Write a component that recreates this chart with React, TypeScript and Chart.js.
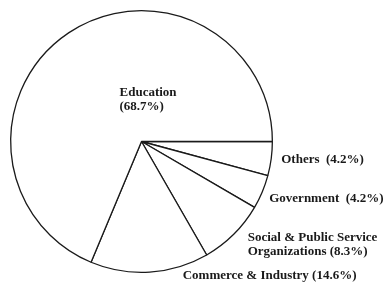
import React, { useEffect, useRef } from "react";
import { Chart, registerables } from "chart.js";

Chart.register(...registerables);

const categories = ["Others", "Government", "Social & Public Service Organizations", "Commerce & Industry", "Education"];
const shares = [4.2, 4.2, 8.3, 14.6, 68.7];
const labelLines = [
  ["Others  (4.2%)"],
  ["Government  (4.2%)"],
  ["Social & Public Service", "Organizations (8.3%)"],
  ["Commerce & Industry (14.6%)"],
  ["Education", "(68.7%)"],
];

// label offsets (dx, dy) from the slice's rim midpoint; Education is placed relative to the centre
const labelOffsets: [number, number, boolean][] = [
  [10, 1, false],
  [7, 6.5, false],
  [14, 3, false],
  [33, 4, false],
  [-22, -49, true],
];

const labelPlugin = {
  id: "sliceLabels",
  afterDatasetsDraw(chart: any) {
    const ctx = chart.ctx;
    const meta = chart.getDatasetMeta(0);
    ctx.save();
    ctx.fillStyle = "#1a1a1a";
    ctx.font = "bold 13px 'Liberation Serif', serif";
    ctx.textAlign = "left";
    ctx.textBaseline = "middle";
    meta.data.forEach((arc: any, i: number) => {
      const p = arc.getProps(["x", "y", "startAngle", "endAngle", "outerRadius"], true);
      const mid = (p.startAngle + p.endAngle) / 2;
      const [dx, dy, inside] = labelOffsets[i];
      let ax = p.x, ay = p.y;
      if (!inside) {
        ax = p.x + Math.cos(mid) * p.outerRadius;
        ay = p.y + Math.sin(mid) * p.outerRadius;
      }
      labelLines[i].forEach((line, j) => {
        ctx.fillText(line, ax + dx, ay + dy + j * 14);
      });
    });
    ctx.restore();
  },
};

export default function App() {
  const ref = useRef<HTMLCanvasElement | null>(null);
  useEffect(() => {
    if (!ref.current) return;
    const chart = new Chart(ref.current, {
      type: "pie",
      data: {
        labels: categories,
        datasets: [
          {
            data: shares,
            backgroundColor: "#ffffff",
            borderColor: "#1a1a1a",
            borderWidth: 1.3,
          },
        ],
      },
      options: {
        responsive: false,
        animation: false,
        rotation: 90,
        layout: { padding: { left: 10, right: 110, top: 10, bottom: 10 } },
        plugins: { legend: { display: false }, tooltip: { enabled: false } },
      },
      plugins: [labelPlugin],
    });
    return () => chart.destroy();
  }, []);
  return (
    <div style={{ position: "fixed", left: 0, top: 0, width: 383, height: 283, background: "#fff" }}>
      <canvas ref={ref} width={383} height={283} />
    </div>
  );
}
